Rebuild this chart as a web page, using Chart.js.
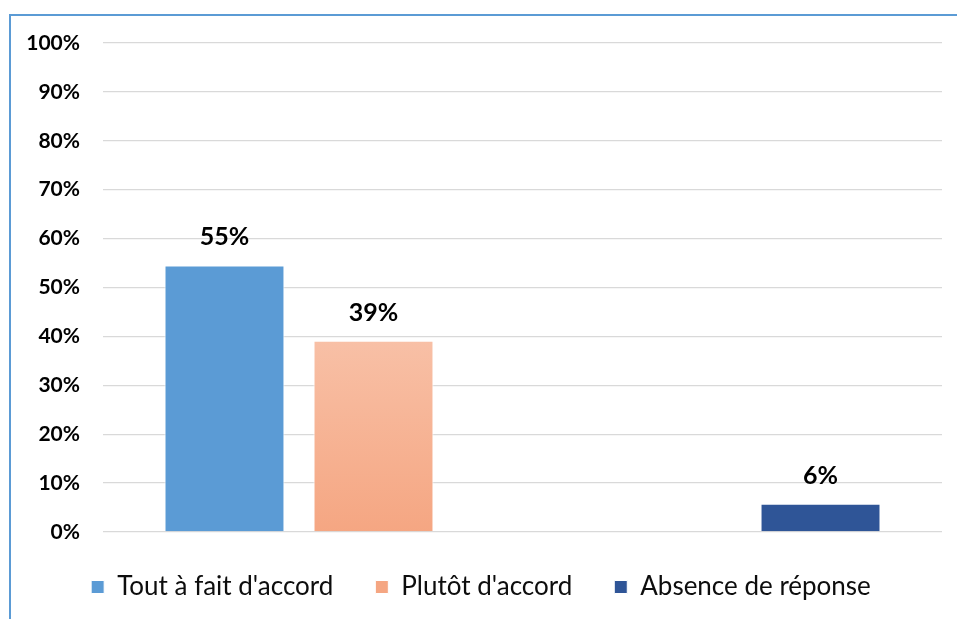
<!DOCTYPE html>
<html><head><meta charset="utf-8">
<script src="https://cdn.jsdelivr.net/npm/chart.js@4"></script>
<style>
html,body{margin:0;padding:0;background:#fff;overflow:hidden;}
#frame{position:absolute;left:9px;top:14px;width:1200px;height:1000px;border-left:2px solid #5B9BD5;border-top:2px solid #5B9BD5;box-sizing:border-box;}
#wrap{position:absolute;left:0;top:0;width:957px;height:619px;}
</style></head><body>
<div id="frame"></div>
<div id="wrap"><canvas id="c"></canvas></div>
<script>
const categories = [''];
const seriesNames = ["Tout à fait d'accord", "Plutôt d'accord", "", "", "Absence de réponse"];
const serie1 = [54.5];
const serie2 = [39.1];
const serie3 = [null];
const serie4 = [null];
const serie5 = [5.8];
const yTickLabels = ['0%','10%','20%','30%','40%','50%','60%','70%','80%','90%','100%'];

const FONT = 'Lato';
const solid = ['#5B9BD5', null, '#5B9BD5', '#5B9BD5', '#2F5597'];

function peachGradient(c) {
  const chart = c.chart;
  const area = chart.chartArea;
  if (!area || c.raw == null) return '#F6B192';
  const yTop = chart.scales.y.getPixelForValue(c.raw);
  const g = chart.ctx.createLinearGradient(0, yTop, 0, area.bottom);
  g.addColorStop(0, '#F8C0A6');
  g.addColorStop(1, '#F5A682');
  return g;
}

const allSeries = [serie1, serie2, serie3, serie4, serie5];
const datasets = allSeries.map((d, i) => ({
  label: seriesNames[i],
  data: d,
  backgroundColor: i === 1 ? peachGradient : solid[i],
  borderColor: '#ffffff',
  borderWidth: 1,
  categoryPercentage: 0.888,
  barPercentage: 0.805
}));

const valueLabels = {
  id: 'valueLabels',
  afterDatasetsDraw(chart) {
    const ctx = chart.ctx;
    chart.data.datasets.forEach((ds, i) => {
      const meta = chart.getDatasetMeta(i);
      meta.data.forEach((bar, j) => {
        const v = ds.data[j];
        if (v == null) return;
        ctx.save();
        ctx.font = 'bold 25px ' + FONT;
        ctx.fillStyle = '#000';
        ctx.textAlign = 'center';
        ctx.textBaseline = 'alphabetic';
        ctx.fillText(Math.round(v) + '%', bar.x, bar.y - 20);
        ctx.restore();
      });
    });
  }
};

new Chart(document.getElementById('c'), {
  type: 'bar',
  data: { labels: categories, datasets },
  options: {
    responsive: true,
    maintainAspectRatio: false,
    animation: false,
    layout: { padding: { left: 20, right: 15, top: 43, bottom: 9 } },
    scales: {
      x: { display: false },
      y: {
        min: 0, max: 100,
        afterFit(s) { s.width = 83; },
        border: { display: false },
        grid: { color: '#D9D9D9', lineWidth: 1.3, drawTicks: false },
        ticks: {
          stepSize: 10,
          padding: 23,
          color: '#000',
          font: { family: FONT, size: 21, weight: 'bold' },
          callback: (v, idx) => yTickLabels[idx]
        }
      }
    },
    plugins: {
      tooltip: { enabled: false },
      legend: {
        position: 'bottom',
        labels: {
          boxWidth: 13, boxHeight: 13,
          padding: 42,
          color: '#0d0d0d',
          font: { family: FONT, size: 26 },
          filter: item => item.text !== ''
        }
      }
    }
  },
  plugins: [valueLabels]
});
</script>
</body></html>
